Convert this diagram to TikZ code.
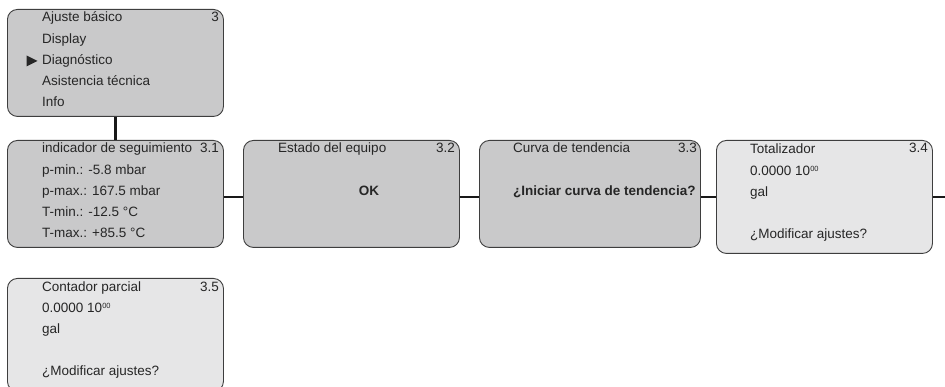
\documentclass[tikz,border=0pt]{standalone}
\usepackage{fontspec}
\setmainfont{Liberation Sans}
\usetikzlibrary{calc}
\definecolor{panel}{RGB}{201,201,202}
\definecolor{panellight}{RGB}{230,230,231}
\definecolor{rim}{RGB}{62,62,62}
\newcommand{\expzero}{\raisebox{0.55ex}{\fontsize{7.5}{8}\selectfont 00}}
\tikzset{
  screen/.style={draw=rim,line width=0.9pt,rounded corners=10pt,fill=panel,anchor=north west,
    minimum width=216pt,minimum height=107pt,inner sep=0pt},
  screenlight/.style={screen,fill=panellight,minimum height=113pt},
  row/.style={font=\fontsize{13.5}{16}\selectfont,anchor=base west,inner sep=0pt,text=black!85},
  num/.style={row,anchor=base east},
  ask/.style={row,font=\fontsize{13.5}{16}\selectfont\bfseries},
  link/.style={line width=2.2pt,draw=black!90},
}

\begin{document}
\begin{tikzpicture}[x=1pt,y=-1pt]
\useasboundingbox (0,0) rectangle (945,387);

% menu 3
\node[screen] (m3) at (7,9) {};
\foreach \t [count=\i] in {Ajuste básico,Display,Diagnóstico,Asistencia técnica,Info}
  \node[row] (m3-\i) at (42,{22+21.2*(\i-1)}) {\t};
\node[num] (m3-n) at (219,22) {3};
\fill[black!85] (26.5,55.5) -- (37.5,61) -- (26.5,66.5) -- cycle;

% 3.1
\node[screen] (s31) at (7,140) {};
\foreach \t [count=\i] in {indicador de seguimiento,p-min.: -5.8 mbar,p-max.: 167.5 mbar,T-min.: -12.5 °C,T-max.: +85.5 °C}
  \node[row] (s31-\i) at (42,{153+21.2*(\i-1)}) {\t};
\node[num] (s31-n) at (219,153) {3.1};

% 3.2
\node[screen] (s32) at (243,140) {};
\node[row] (s32-1) at (278,153) {Estado del equipo};
\node[num] (s32-n) at (455,153) {3.2};
\node[ask,anchor=base] (s32-ok) at (369,196) {OK};

% 3.3
\node[screen,minimum width=221pt] (s33) at (479,140) {};
\node[row] (s33-1) at (513,153) {Curva de tendencia};
\node[num] (s33-n) at (697,153) {3.3};
\node[ask] (s33-q) at (513,196) {¿Iniciar curva de tendencia?};

% 3.4
\node[screenlight] (s34) at (716,140) {};
\foreach \t/\r in {Totalizador/1,{0.0000 10\expzero}/2,gal/3,¿Modificar ajustes?/5}
  \node[row] (s34-\r) at (750,{154+21.2*(\r-1)}) {\t};
\node[num] (s34-n) at (928,153) {3.4};

% 3.5
\node[screenlight] (s35) at (7,278) {};
\foreach \t/\r in {Contador parcial/1,{0.0000 10\expzero}/2,gal/3,¿Modificar ajustes?/5}
  \node[row] (s35-\r) at (42,{291+21.2*(\r-1)}) {\t};
\node[num] (s35-n) at (219,291) {3.5};

% connectors
\coordinate (out) at (945,197);
\draw[link] (m3.south) -- (s31.north);
\draw[link] (s31.east |- out) -- (s32.west |- out);
\draw[link] (s32.east |- out) -- (s33.west |- out);
\draw[link] (s33.east |- out) -- (s34.west |- out);
\draw[link] (s34.east |- out) -- (out);
\end{tikzpicture}
\end{document}
